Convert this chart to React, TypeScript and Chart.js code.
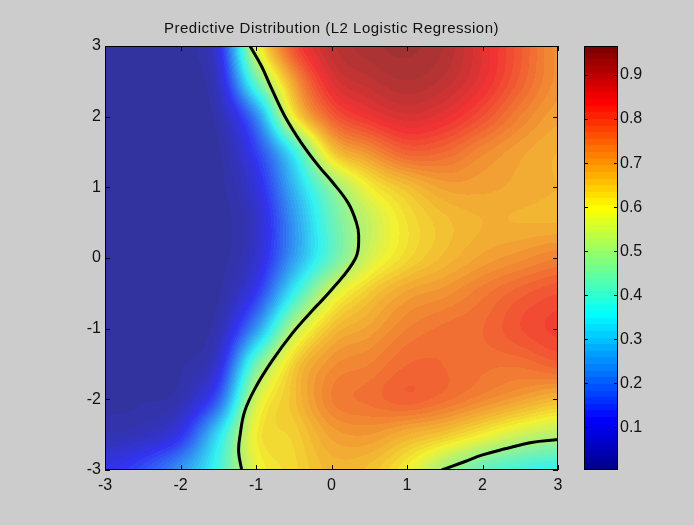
import React, { useEffect, useRef } from 'react';
import { Chart, registerables } from 'chart.js';

Chart.register(...registerables);

const TITLE = 'Predictive Distribution (L2 Logistic Regression)';

// Sample grid of the predictive probability p(y=1 | x1, x2)
const X_GRID = [-3, -2.5, -2, -1.5, -1, -0.5, 0, 0.5, 1, 1.5, 2, 2.5, 3];
const Y_GRID = [3, 2.5, 2, 1.5, 1, 0.5, 0, -0.5, -1, -1.5, -2, -2.5, -3];

const PROB_Y3 = [0.004, 0.005, 0.01, 0.09, 0.56, 0.8, 0.9, 0.93, 0.94, 0.92, 0.86, 0.79, 0.72];
const PROB_Y2_5 = [0.004, 0.005, 0.01, 0.06, 0.42, 0.7, 0.86, 0.9, 0.92, 0.9, 0.85, 0.78, 0.72];
const PROB_Y2 = [0.004, 0.005, 0.008, 0.03, 0.22, 0.6, 0.78, 0.84, 0.87, 0.85, 0.8, 0.74, 0.7];
const PROB_Y1_5 = [0.004, 0.005, 0.007, 0.014, 0.13, 0.36, 0.64, 0.72, 0.78, 0.77, 0.73, 0.7, 0.68];
const PROB_Y1 = [0.004, 0.005, 0.006, 0.01, 0.085, 0.28, 0.47, 0.6, 0.66, 0.7, 0.7, 0.69, 0.68];
const PROB_Y0_5 = [0.004, 0.005, 0.006, 0.008, 0.06, 0.24, 0.42, 0.54, 0.62, 0.66, 0.68, 0.68, 0.68];
const PROB_Y0 = [0.004, 0.005, 0.006, 0.009, 0.07, 0.25, 0.42, 0.56, 0.63, 0.67, 0.7, 0.72, 0.74];
const PROB_YM0_5 = [0.004, 0.005, 0.007, 0.015, 0.12, 0.36, 0.56, 0.65, 0.7, 0.72, 0.75, 0.78, 0.8];
const PROB_YM1 = [0.004, 0.006, 0.009, 0.035, 0.24, 0.52, 0.66, 0.7, 0.74, 0.76, 0.77, 0.8, 0.82];
const PROB_YM1_5 = [0.005, 0.007, 0.014, 0.08, 0.43, 0.64, 0.72, 0.74, 0.77, 0.77, 0.76, 0.76, 0.78];
const PROB_YM2 = [0.01, 0.015, 0.035, 0.17, 0.55, 0.66, 0.74, 0.76, 0.78, 0.76, 0.73, 0.7, 0.67];
const PROB_YM2_5 = [0.035, 0.05, 0.11, 0.33, 0.6, 0.64, 0.7, 0.71, 0.68, 0.65, 0.6, 0.55, 0.52];
const PROB_YM3 = [0.1, 0.15, 0.24, 0.38, 0.58, 0.63, 0.67, 0.66, 0.6, 0.5, 0.42, 0.38, 0.36];

const PROB_ROWS = [
  PROB_Y3, PROB_Y2_5, PROB_Y2, PROB_Y1_5, PROB_Y1, PROB_Y0_5, PROB_Y0,
  PROB_YM0_5, PROB_YM1, PROB_YM1_5, PROB_YM2, PROB_YM2_5, PROB_YM3,
];

// p = 0.5 decision boundary
const BOUNDARY_MAIN_X = [-1.08, -0.93, -0.79, -0.62, -0.4, -0.17, 0.0, 0.22, 0.33, 0.36, 0.32, 0.0, -0.26, -0.53, -0.79, -1.01, -1.15, -1.21, -1.23, -1.19];
const BOUNDARY_MAIN_Y = [3, 2.72, 2.39, 2.01, 1.63, 1.3, 1.09, 0.78, 0.5, 0.31, 0, -0.45, -0.75, -1.08, -1.46, -1.84, -2.17, -2.5, -2.74, -3];
const BOUNDARY_CORNER_X = [1.46, 1.77, 1.99, 2.3, 2.65, 3.0];
const BOUNDARY_CORNER_Y = [-3, -2.88, -2.79, -2.7, -2.61, -2.57];

const AXIS_TICKS = [-3, -2, -1, 0, 1, 2, 3];
const CB_MIN = 0.003;
const CB_MAX = 0.966;
const CB_TICKS = [0.1, 0.2, 0.3, 0.4, 0.5, 0.6, 0.7, 0.8, 0.9];

const FIG_BG = '#cccccc';
const FONT_FAMILY = '"Liberation Sans", Arial, Helvetica, sans-serif';

// MATLAB-style 64-entry jet colormap, returns [r,g,b] in 0..1
function jet64(i: number): [number, number, number] {
  const k = i + 1; // 1-based
  let r = 0, g = 0, b = 0;
  if (k >= 25 && k <= 40) r = (k - 24) / 16;
  else if (k >= 41 && k <= 55) r = 1;
  else if (k >= 56) r = (72 - k) / 16;
  if (k >= 9 && k <= 24) g = (k - 8) / 16;
  else if (k >= 25 && k <= 39) g = 1;
  else if (k >= 40 && k <= 55) g = (56 - k) / 16;
  if (k <= 8) b = (k + 8) / 16;
  else if (k <= 23) b = 1;
  else if (k <= 39) b = (40 - k) / 16;
  return [r, g, b];
}

function colorIndex(v: number) {
  const t = (v - CB_MIN) / (CB_MAX - CB_MIN);
  return Math.max(0, Math.min(63, Math.floor(t * 64)));
}

function catmull(p0: number, p1: number, p2: number, p3: number, t: number) {
  return p1 + 0.5 * t * (p2 - p0 + t * (2 * p0 - 5 * p1 + 4 * p2 - p3 + t * (3 * (p1 - p2) + p3 - p0)));
}

function sampleProb(x: number, y: number) {
  const nx = X_GRID.length, ny = Y_GRID.length;
  const gx = (x - X_GRID[0]) / (X_GRID[1] - X_GRID[0]);
  const gy = (y - Y_GRID[0]) / (Y_GRID[1] - Y_GRID[0]);
  const ix = Math.max(0, Math.min(nx - 2, Math.floor(gx)));
  const iy = Math.max(0, Math.min(ny - 2, Math.floor(gy)));
  const tx = Math.max(0, Math.min(1, gx - ix));
  const ty = Math.max(0, Math.min(1, gy - iy));
  const cl = (a: number, n: number) => Math.max(0, Math.min(n - 1, a));
  const rows: number[] = [];
  for (let j = -1; j <= 2; j++) {
    const row = PROB_ROWS[cl(iy + j, ny)];
    rows.push(catmull(row[cl(ix - 1, nx)], row[cl(ix, nx)], row[cl(ix + 1, nx)], row[cl(ix + 2, nx)], tx));
  }
  return catmull(rows[0], rows[1], rows[2], rows[3], ty);
}

const surfacePlugin = {
  id: 'probSurface',
  beforeDatasetsDraw(chart: any) {
    const { ctx, chartArea, scales } = chart;
    const w = Math.round(chartArea.right - chartArea.left);
    const h = Math.round(chartArea.bottom - chartArea.top);
    const off = document.createElement('canvas');
    off.width = w;
    off.height = h;
    const octx = off.getContext('2d')!;
    const img = octx.createImageData(w, h);
    const xs: number[] = [];
    for (let px = 0; px < w; px++) xs.push(scales.x.getValueForPixel(chartArea.left + px + 0.5));
    for (let py = 0; py < h; py++) {
      const yv = scales.y.getValueForPixel(chartArea.top + py + 0.5);
      for (let px = 0; px < w; px++) {
        const v = sampleProb(xs[px], yv);
        const [r, g, b] = jet64(colorIndex(v));
        const o = (py * w + px) * 4;
        // surface is drawn at 75% opacity over the figure grey
        img.data[o] = Math.round((0.75 * r + 0.2) * 255);
        img.data[o + 1] = Math.round((0.75 * g + 0.2) * 255);
        img.data[o + 2] = Math.round((0.75 * b + 0.2) * 255);
        img.data[o + 3] = 255;
      }
    }
    octx.putImageData(img, 0, 0);
    ctx.drawImage(off, chartArea.left, chartArea.top);
  },
  afterDraw(chart: any) {
    const { ctx, chartArea, scales } = chart;
    const { left, right, top, bottom } = chartArea;
    ctx.save();
    // axes box
    ctx.strokeStyle = '#000';
    ctx.lineWidth = 1;
    ctx.strokeRect(left + 0.5, top + 0.5, right - left - 1, bottom - top - 1);
    // inward ticks on all four sides
    const tl = 5;
    ctx.beginPath();
    for (const t of AXIS_TICKS) {
      const px = Math.round(scales.x.getPixelForValue(t)) + 0.5;
      ctx.moveTo(px, bottom); ctx.lineTo(px, bottom - tl);
      ctx.moveTo(px, top); ctx.lineTo(px, top + tl);
      const py = Math.round(scales.y.getPixelForValue(t)) + 0.5;
      ctx.moveTo(left, py); ctx.lineTo(left + tl, py);
      ctx.moveTo(right, py); ctx.lineTo(right - tl, py);
    }
    ctx.stroke();

    // colorbar
    const cb = scales.cb;
    const cbL = right + 26;
    const cbW = 34;
    for (let py = Math.floor(top); py < bottom; py++) {
      const v = cb.getValueForPixel(py + 0.5);
      const [r, g, b] = jet64(colorIndex(v));
      ctx.fillStyle = `rgb(${Math.round(r * 255)},${Math.round(g * 255)},${Math.round(b * 255)})`;
      ctx.fillRect(cbL, py, cbW, 1);
    }
    ctx.strokeRect(cbL + 0.5, top + 0.5, cbW - 1, bottom - top - 1);
    ctx.beginPath();
    for (const t of CB_TICKS) {
      const py = Math.round(cb.getPixelForValue(t)) + 0.5;
      ctx.moveTo(cbL, py); ctx.lineTo(cbL + 4, py);
      ctx.moveTo(cbL + cbW, py); ctx.lineTo(cbL + cbW - 4, py);
    }
    ctx.stroke();

    // title
    ctx.fillStyle = '#111';
    ctx.font = `15px ${FONT_FAMILY}`;
    (ctx as any).letterSpacing = '0.5px';
    ctx.textAlign = 'center';
    ctx.textBaseline = 'alphabetic';
    ctx.fillText(TITLE, (left + right) / 2, 33);
    ctx.restore();
  },
};

export default function App() {
  const canvasRef = useRef<HTMLCanvasElement | null>(null);

  useEffect(() => {
    const canvas = canvasRef.current;
    if (!canvas) return;
    const tickFont = { family: FONT_FAMILY, size: 16 };
    const chart = new Chart(canvas, {
      type: 'scatter',
      data: {
        datasets: [
          {
            label: 'p = 0.5',
            data: BOUNDARY_MAIN_X.map((x, i) => ({ x, y: BOUNDARY_MAIN_Y[i] })),
            showLine: true,
            borderColor: '#000',
            borderWidth: 3,
            pointRadius: 0,
            tension: 0.4,
            xAxisID: 'x',
            yAxisID: 'y',
          },
          {
            label: 'p = 0.5 (corner)',
            data: BOUNDARY_CORNER_X.map((x, i) => ({ x, y: BOUNDARY_CORNER_Y[i] })),
            showLine: true,
            borderColor: '#000',
            borderWidth: 3,
            pointRadius: 0,
            tension: 0.4,
            xAxisID: 'x',
            yAxisID: 'y',
          },
        ],
      },
      options: {
        responsive: false,
        animation: false,
        devicePixelRatio: 1,
        layout: { padding: { left: 65, right: 0, top: 46, bottom: 15 } },
        plugins: { legend: { display: false }, tooltip: { enabled: false }, title: { display: false } },
        scales: {
          x: {
            type: 'linear',
            min: -3,
            max: 3,
            afterBuildTicks: (s: any) => { s.ticks = AXIS_TICKS.map((v) => ({ value: v })); },
            afterFit: (s: any) => { s.height = 40; s.paddingLeft = 0; s.paddingRight = 0; },
            grid: { display: false, drawTicks: false },
            border: { display: false },
            ticks: { font: tickFont, color: '#111', padding: 6, maxRotation: 0, autoSkip: false },
          },
          y: {
            type: 'linear',
            position: 'left',
            min: -3,
            max: 3,
            afterBuildTicks: (s: any) => { s.ticks = AXIS_TICKS.map((v) => ({ value: v })); },
            afterFit: (s: any) => { s.width = 40; s.paddingTop = 0; s.paddingBottom = 0; },
            grid: { display: false, drawTicks: false },
            border: { display: false },
            ticks: { font: tickFont, color: '#111', padding: 4, autoSkip: false },
          },
          cb: {
            type: 'linear',
            position: 'right',
            min: CB_MIN,
            max: CB_MAX,
            afterBuildTicks: (s: any) => { s.ticks = CB_TICKS.map((v) => ({ value: v })); },
            afterFit: (s: any) => { s.width = 136; s.paddingTop = 0; s.paddingBottom = 0; },
            grid: { display: false, drawTicks: false },
            border: { display: false },
            ticks: {
              font: tickFont,
              color: '#111',
              padding: 62,
              autoSkip: false,
              callback: (v: any) => Number(v).toFixed(1),
            },
          },
        },
      },
      plugins: [surfacePlugin],
    } as any);
    return () => chart.destroy();
  }, []);

  return (
    <div style={{ position: 'fixed', left: 0, top: 0, width: 694, height: 525, background: FIG_BG }}>
      <canvas ref={canvasRef} width={694} height={525} style={{ display: 'block' }} />
    </div>
  );
}
